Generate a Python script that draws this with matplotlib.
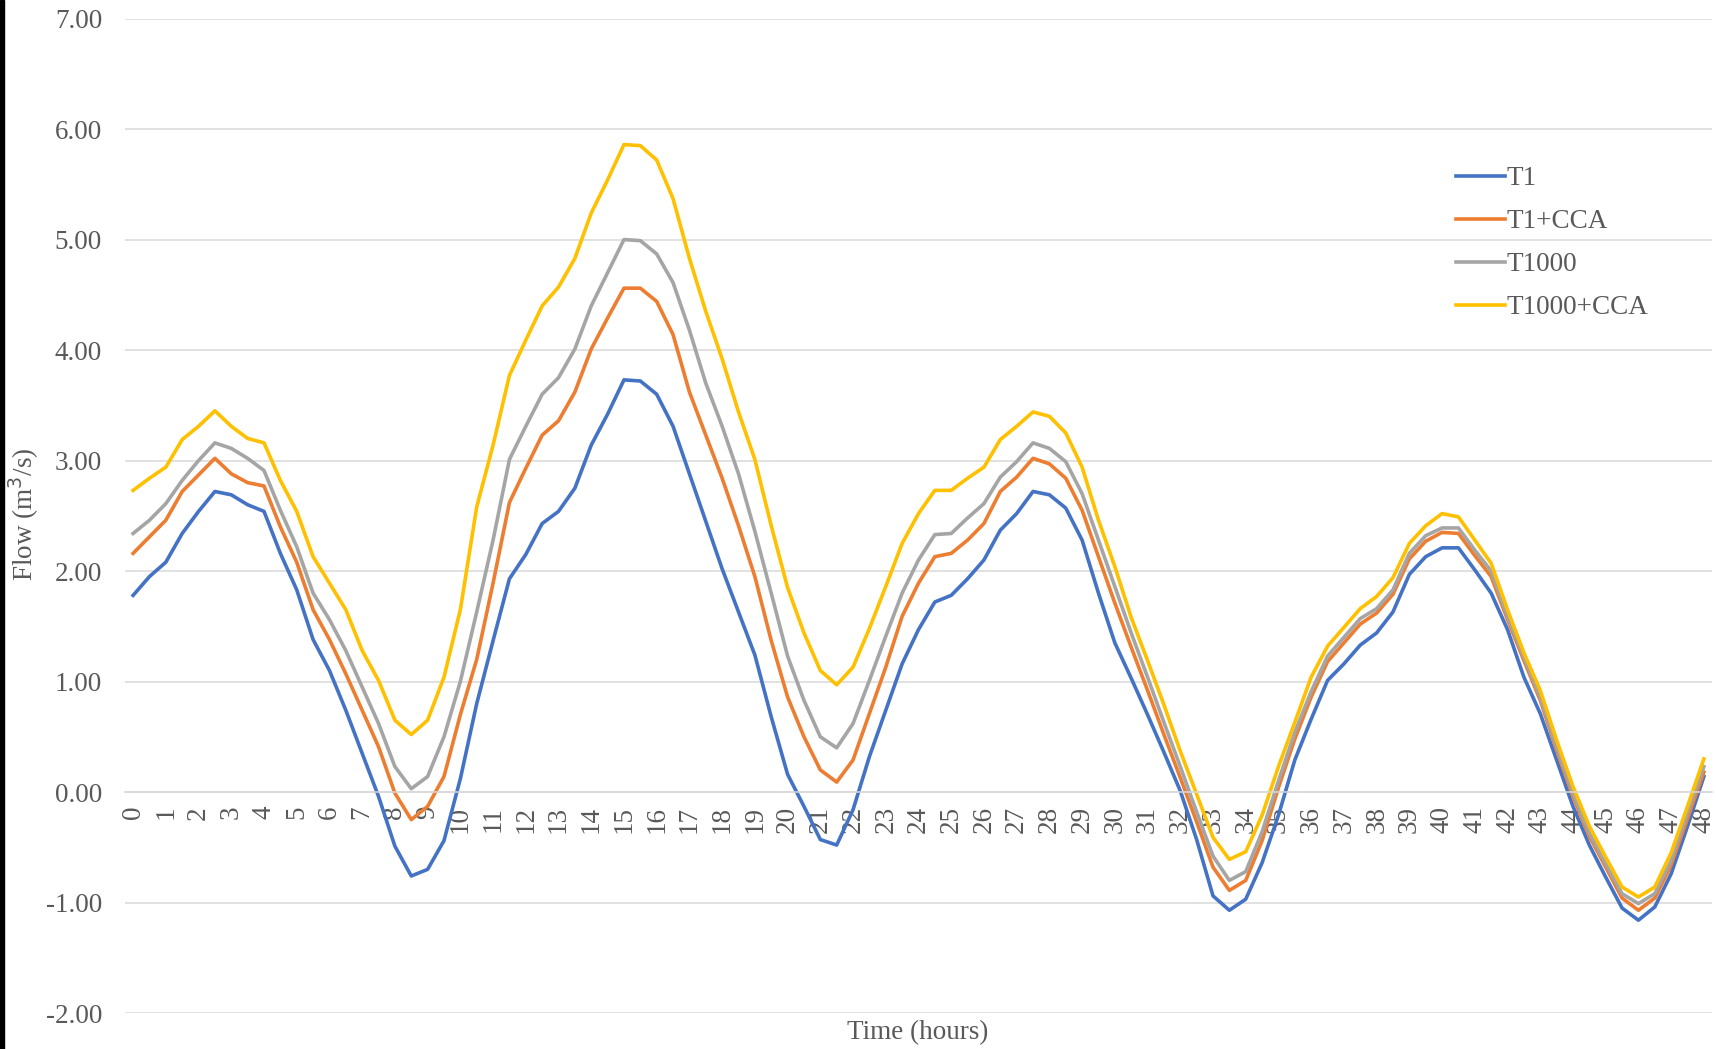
import numpy as np
import matplotlib
matplotlib.use("Agg")
import matplotlib.pyplot as plt
from matplotlib.patches import Rectangle

# half-hourly time steps, 0 .. 48 h
hours = np.arange(0, 48.5, 0.5)

t1 = [1.78, 1.95, 2.08, 2.34, 2.54, 2.72, 2.69, 2.60, 2.54, 2.16,
      1.83, 1.38, 1.10, 0.74, 0.35, -0.04, -0.49, -0.76, -0.70, -0.44,
      0.12, 0.80, 1.37, 1.93, 2.15, 2.43, 2.54, 2.75, 3.14, 3.42,
      3.73, 3.72, 3.60, 3.31, 2.88, 2.45, 2.02, 1.63, 1.24, 0.68,
      0.16, -0.13, -0.43, -0.48, -0.16, 0.32, 0.74, 1.16, 1.47, 1.72,
      1.78, 1.93, 2.10, 2.37, 2.52, 2.72, 2.69, 2.57, 2.28, 1.80,
      1.35, 1.03, 0.70, 0.36, 0.01, -0.43, -0.94, -1.07, -0.97, -0.64,
      -0.21, 0.29, 0.66, 1.01, 1.16, 1.33, 1.44, 1.63, 1.97, 2.13,
      2.21, 2.21, 2.01, 1.80, 1.47, 1.04, 0.71, 0.29, -0.13, -0.48,
      -0.77, -1.05, -1.16, -1.04, -0.74, -0.31, 0.14]

t1_cca = [2.16, 2.31, 2.46, 2.72, 2.87, 3.02, 2.88, 2.80, 2.77, 2.40,
          2.08, 1.65, 1.38, 1.07, 0.74, 0.41, -0.01, -0.25, -0.13, 0.14,
          0.70, 1.20, 1.89, 2.62, 2.93, 3.23, 3.36, 3.62, 4.01, 4.29,
          4.56, 4.56, 4.44, 4.14, 3.62, 3.23, 2.84, 2.41, 1.95, 1.37,
          0.86, 0.50, 0.20, 0.09, 0.29, 0.71, 1.13, 1.59, 1.89, 2.13,
          2.16, 2.28, 2.43, 2.72, 2.85, 3.02, 2.97, 2.84, 2.55, 2.13,
          1.71, 1.31, 0.92, 0.52, 0.13, -0.27, -0.68, -0.89, -0.80, -0.44,
          0.04, 0.48, 0.86, 1.18, 1.35, 1.52, 1.62, 1.79, 2.11, 2.27,
          2.35, 2.34, 2.14, 1.95, 1.56, 1.19, 0.83, 0.38, -0.04, -0.40,
          -0.68, -0.96, -1.07, -0.96, -0.66, -0.24, 0.18]

t1000 = [2.34, 2.46, 2.61, 2.82, 3.00, 3.16, 3.11, 3.02, 2.91, 2.55,
         2.22, 1.80, 1.56, 1.28, 0.95, 0.62, 0.23, 0.03, 0.14, 0.50,
         1.00, 1.63, 2.28, 3.01, 3.31, 3.60, 3.75, 4.01, 4.40, 4.70,
         5.00, 4.99, 4.87, 4.61, 4.18, 3.70, 3.31, 2.88, 2.36, 1.80,
         1.23, 0.83, 0.50, 0.40, 0.62, 1.01, 1.41, 1.80, 2.10, 2.33,
         2.34, 2.48, 2.61, 2.85, 2.99, 3.16, 3.11, 2.99, 2.70, 2.28,
         1.86, 1.44, 1.04, 0.63, 0.23, -0.18, -0.58, -0.80, -0.72, -0.36,
         0.10, 0.54, 0.91, 1.23, 1.40, 1.57, 1.66, 1.83, 2.16, 2.32,
         2.39, 2.39, 2.19, 2.00, 1.59, 1.22, 0.86, 0.41, -0.01, -0.37,
         -0.65, -0.92, -1.01, -0.92, -0.62, -0.19, 0.23]

t1000_cca = [2.73, 2.84, 2.94, 3.19, 3.31, 3.45, 3.31, 3.20, 3.16, 2.82,
             2.54, 2.13, 1.89, 1.65, 1.28, 1.01, 0.65, 0.52, 0.65, 1.04,
             1.65, 2.58, 3.14, 3.77, 4.09, 4.40, 4.57, 4.83, 5.24, 5.54,
             5.86, 5.85, 5.72, 5.37, 4.83, 4.35, 3.92, 3.44, 3.01, 2.41,
             1.85, 1.44, 1.10, 0.97, 1.13, 1.48, 1.86, 2.25, 2.52, 2.73,
             2.73, 2.84, 2.94, 3.19, 3.31, 3.44, 3.40, 3.25, 2.94, 2.46,
             2.04, 1.58, 1.19, 0.79, 0.37, -0.02, -0.41, -0.61, -0.54, -0.21,
             0.23, 0.63, 1.04, 1.32, 1.49, 1.66, 1.77, 1.94, 2.25, 2.41,
             2.52, 2.49, 2.28, 2.07, 1.65, 1.26, 0.92, 0.47, 0.05, -0.31,
             -0.59, -0.86, -0.95, -0.86, -0.55, -0.13, 0.30]

series_names = ['T1', 'T1+CCA', 'T1000', 'T1000+CCA']
series_colors = ['#4472C4', '#ED7D31', '#A5A5A5', '#FFC000']

plt.rcParams['font.family'] = ['Liberation Serif', 'DejaVu Serif']
plt.rcParams['axes.unicode_minus'] = False
txt_color = '#595959'
fs = 19.5

fig = plt.figure(figsize=(17.16, 10.49), dpi=100)
ax = fig.add_axes([0.0728, 0.0343, 0.9249, 0.948])

for vals, name, col in zip([t1, t1_cca, t1000, t1000_cca], series_names, series_colors):
    ax.plot(hours, vals, color=col, lw=2.6, label=name, solid_joinstyle='round')

ax.set_xlim(-0.25, 48.25)
ax.set_ylim(-2, 7)

ax.grid(True, axis='y', color='#D9D9D9', lw=1.1)
ax.set_axisbelow(True)
for s in ['top', 'right', 'left']:
    ax.spines[s].set_visible(False)
# category axis crosses at zero, so its labels sit under the 0.00 line
ax.spines['bottom'].set_position(('data', 0))
ax.spines['bottom'].set_color('#D9D9D9')
ax.spines['bottom'].set_linewidth(1.1)

ax.set_yticks(np.arange(-2, 8, 1))
ax.set_yticklabels(['%.2f' % v for v in np.arange(-2, 8, 1)])
ax.set_xticks(range(0, 49))
ax.set_xticklabels([str(i) for i in range(0, 49)])

ax.tick_params(axis='y', length=0, pad=16.5, labelsize=fs, labelcolor=txt_color)
ax.tick_params(axis='x', length=0, pad=10, labelsize=fs, labelcolor=txt_color,
               labelrotation=90)

fig.text(0.014, 0.51, 'Flow (m$^3$/s)', rotation=90, ha='center', va='center',
         fontsize=fs, color=txt_color)
fig.text(0.5345, 0.0153, 'Time (hours)', ha='center', va='center',
         fontsize=fs, color=txt_color)

leg = ax.legend(loc='upper left', bbox_to_anchor=(0.8485, 0.8417),
                bbox_transform=fig.transFigure, frameon=False, fontsize=fs,
                handlelength=1.8, handletextpad=0.05, labelspacing=0.67,
                borderpad=0, borderaxespad=0)
for t in leg.get_texts():
    t.set_color(txt_color)

# dark border at the left edge of the picture
fig.patches.append(Rectangle((0, 0), 4 / 1716, 1, transform=fig.transFigure,
                             color='black', zorder=10))

fig.savefig('out.png', dpi=100)
